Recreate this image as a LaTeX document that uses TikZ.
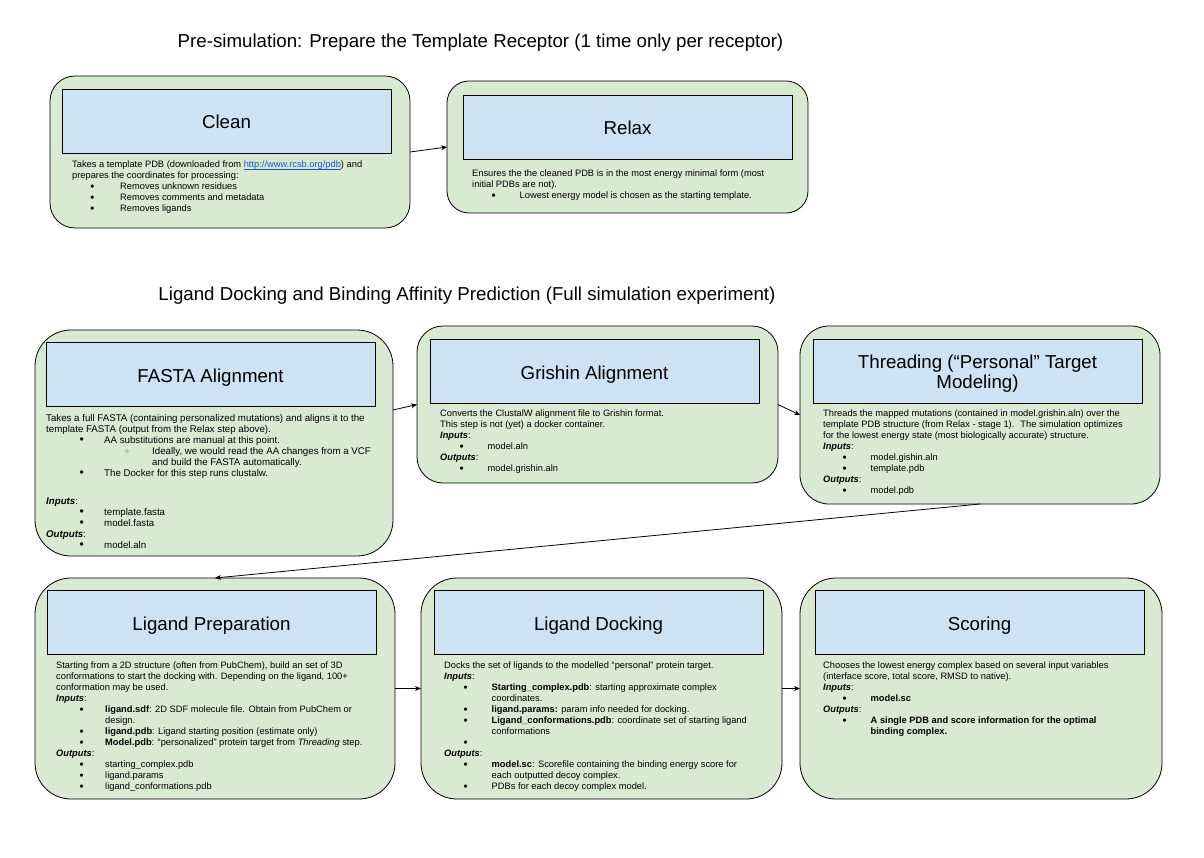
\documentclass[tikz,border=0pt]{standalone}
\usepackage{fontspec}
\usepackage{graphicx}
\setmainfont{Liberation Sans}
\usetikzlibrary{arrows.meta,calc}
\definecolor{boxgreen}{HTML}{D9EAD3}
\definecolor{boxblue}{HTML}{CFE2F3}
\definecolor{linkblue}{HTML}{1155CC}
\newcommand\Dot{\raisebox{-0.6pt}{\scalebox{1.25}{\textbullet}}}
\newcommand\Bul[2]{\makebox[#2][l]{\hspace*{#1}\Dot}}
\newcommand\SB{\Bul{19.4pt}{47.5pt}}
\newcommand\CB{\Bul{18.2pt}{48pt}}
\newcommand\FB{\Bul{33.4pt}{58pt}}
\newcommand\FSB{\makebox[106pt][l]{\hspace*{79pt}\raisebox{0.6pt}{\fontsize{6.3}{6.3}\selectfont ○}}}
\newcommand\PB{\Bul{23.4pt}{49pt}}
\newcommand\BI[1]{\textbf{\textit{#1}}}
\tikzset{
  outerbox/.style={draw=black, line width=0.8pt, fill=boxgreen, inner sep=0pt, outer sep=0pt},
  innerbox/.style={draw=black, line width=0.8pt, fill=boxblue, minimum width=329pt, minimum height=64pt, inner sep=0pt},
  boxtitle/.style={inner sep=0pt, font=\fontsize{18.7}{20}\selectfont, text height=18pt, text depth=2pt},
  boxtitletwo/.style={inner sep=0pt, font=\fontsize{18.7}{20}\selectfont, align=center},
  bodytext/.style={anchor=north west, inner sep=0pt, align=left, font=\fontsize{9.3}{11}\selectfont},
  sectitle/.style={inner sep=0pt, font=\fontsize{18.7}{22}\selectfont},
  arr/.style={-{Stealth[length=6pt,width=5pt]}, line width=0.8pt}
}
\begin{document}
\begin{tikzpicture}[x=1pt,y=-1pt]
\path[fill=white] (0,0) rectangle (1204,858);
% section titles
\node[sectitle] (t1) at (480.5,43) {Pre-simulation: Prepare the Template Receptor (1 time only per receptor)};
\node[sectitle] (t2) at (467,296) {Ligand Docking and Binding Affinity Prediction (Full simulation experiment)};
% outer boxes
\node[outerbox, minimum width=360pt, minimum height=152pt, rounded corners=25pt] (clean) at (230,152) {};
\node[outerbox, minimum width=361pt, minimum height=132pt, rounded corners=22pt] (relax) at (627.5,147) {};
\node[outerbox, minimum width=358pt, minimum height=226pt, rounded corners=36pt] (fasta) at (214,443) {};
\node[outerbox, minimum width=361pt, minimum height=157pt, rounded corners=26pt] (grishin) at (597.5,404.5) {};
\node[outerbox, minimum width=360pt, minimum height=178pt, rounded corners=29pt] (threading) at (980,415) {};
\node[outerbox, minimum width=360pt, minimum height=221pt, rounded corners=36pt] (prep) at (215,688.5) {};
\node[outerbox, minimum width=361pt, minimum height=221pt, rounded corners=36pt] (docking) at (601.5,688.5) {};
\node[outerbox, minimum width=362pt, minimum height=221pt, rounded corners=36pt] (scoring) at (981,688.5) {};
% inner title boxes
\node[innerbox] (cleanT) at (226.5,121) {};
\node[innerbox] (relaxT) at (627.5,127) {};
\node[innerbox] (fastaT) at (210.5,374) {};
\node[innerbox] (grishinT) at (594.5,371) {};
\node[innerbox] (threadingT) at (977.5,371) {};
\node[innerbox] (prepT) at (211.5,622) {};
\node[innerbox] (dockingT) at (598.5,622.5) {};
\node[innerbox] (scoringT) at (979.5,622.5) {};
\node[boxtitle] (cleanL) at (cleanT.center) {Clean};
\node[boxtitle] (relaxL) at (relaxT.center) {Relax};
\node[boxtitle] (fastaL) at (fastaT.center) {FASTA Alignment};
\node[boxtitle] (grishinL) at (grishinT.center) {Grishin Alignment};
\node[boxtitletwo] (threadingL) at ([yshift=-2.5pt]threadingT.center) {Threading (“Personal” Target\\Modeling)};
\node[boxtitle] (prepL) at (prepT.center) {Ligand Preparation};
\node[boxtitle] (dockingL) at (dockingT.center) {Ligand Docking};
\node[boxtitle] (scoringL) at (scoringT.center) {Scoring};
% body texts
\node[bodytext] (cleanB) at (72,160.5) {Takes a template PDB (downloaded from \textcolor{linkblue}{\underline{\smash{http://www.rcsb.org/pdb}}}) and\\
prepares the coordinates for processing:\\
\CB Removes unknown residues\\
\CB Removes comments and metadata\\
\CB Removes ligands};
\node[bodytext] (relaxB) at (472,170) {Ensures the the cleaned PDB is in the most energy minimal form (most\\
initial PDBs are not).\\
\SB Lowest energy model is chosen as the starting template.};
\node[bodytext, font=\fontsize{9.7}{11}\selectfont] (fastaB) at (46,414) {Takes a full FASTA (containing personalized mutations) and aligns it to the\\
template FASTA (output from the Relax step above).\\
\FB AA substitutions are manual at this point.\\
\FSB Ideally, we would read the AA changes from a VCF\\
\hspace*{106pt}and build the FASTA automatically.\\
\FB The Docker for this step runs clustalw.\\[17pt]
\BI{Inputs}:\\
\FB template.fasta\\
\FB model.fasta\\
\BI{Outputs}:\\
\FB model.aln};
\node[bodytext] (grishinB) at (440,410) {Converts the ClustalW alignment file to Grishin format.\\
This step is not (yet) a docker container.\\
\BI{Inputs}:\\
\SB model.aln\\
\BI{Outputs}:\\
\SB model.grishin.aln};
\node[bodytext] (threadingB) at (823,410) {Threads the mapped mutations (contained in model.grishin.aln) over the\\
template PDB structure (from Relax - stage 1).~ The simulation optimizes\\
for the lowest energy state (most biologically accurate) structure.\\
\BI{Inputs}:\\
\SB model.gishin.aln\\
\SB template.pdb\\
\BI{Outputs}:\\
\SB model.pdb};
\node[bodytext] (prepB) at (56,661.5) {Starting from a 2D structure (often from PubChem), build an set of 3D\\
conformations to start the docking with. Depending on the ligand, 100+\\
conformation may be used.\\
\BI{Inputs}:\\
\PB \textbf{ligand.sdf}: 2D SDF molecule file. Obtain from PubChem or\\
\hspace*{49pt}design.\\
\PB \textbf{ligand.pdb}: Ligand starting position (estimate only)\\
\PB \textbf{Model.pdb}: “personalized” protein target from \textit{Threading} step.\\
\BI{Outputs}:\\
\PB starting\_complex.pdb\\
\PB ligand.params\\
\PB ligand\_conformations.pdb};
\node[bodytext] (dockingB) at (444,661.5) {Docks the set of ligands to the modelled “personal” protein target.\\
\BI{Inputs}:\\
\SB \textbf{Starting\_complex.pdb}: starting approximate complex\\
\hspace*{47.5pt}coordinates.\\
\SB \textbf{ligand.params:} param info needed for docking.\\
\SB \textbf{Ligand\_conformations.pdb}: coordinate set of starting ligand\\
\hspace*{47.5pt}conformations\\
\SB\\
\BI{Outputs}:\\
\SB \textbf{model.sc}: Scorefile containing the binding energy score for\\
\hspace*{47.5pt}each outputted decoy complex.\\
\SB PDBs for each decoy complex model.};
\node[bodytext] (scoringB) at (823,661.5) {Chooses the lowest energy complex based on several input variables\\
(interface score, total score, RMSD to native).\\
\BI{Inputs}:\\
\SB \textbf{model.sc}\\
\BI{Outputs}:\\
\SB \textbf{A single PDB and score information for the optimal}\\
\hspace*{47.5pt}\textbf{binding complex.}};
% connectors
\draw[arr] (clean.east) -- (relax.west);
\draw[arr] ([yshift=33pt]fasta.east) -- (grishin.west);
\draw[arr] (grishin.east) -- (threading.west);
\draw[arr] (threading.south) -- (prep.north);
\draw[arr] (prep.east) -- (docking.west);
\draw[arr] (docking.east) -- (scoring.west);
\end{tikzpicture}
\end{document}
